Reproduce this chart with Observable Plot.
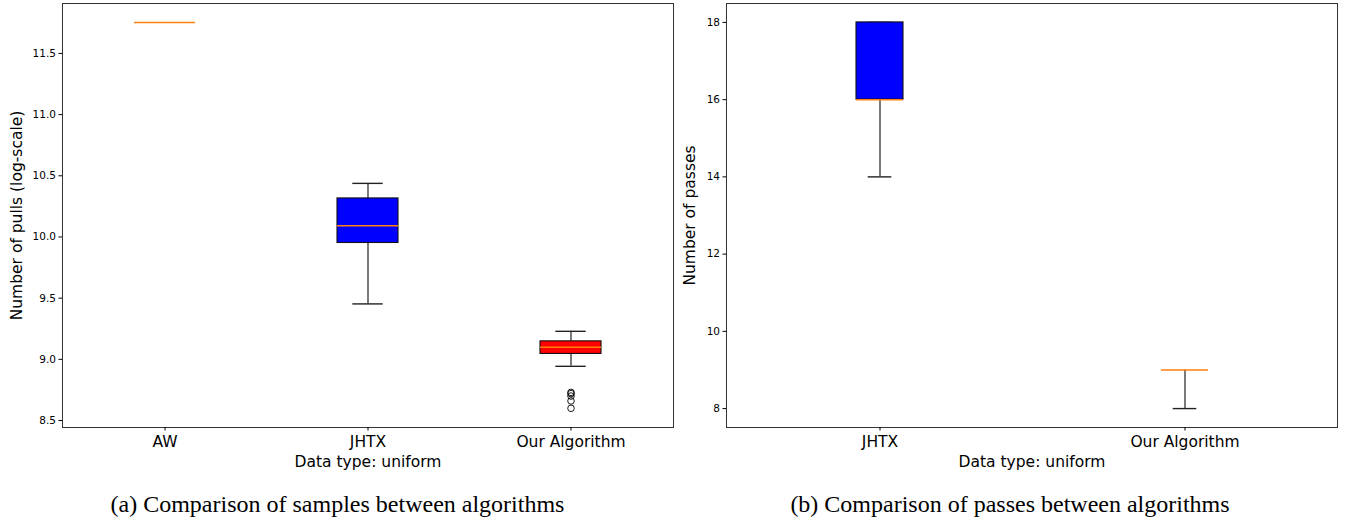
<!DOCTYPE html>
<html>
<head>
<meta charset="utf-8">
<script src="https://cdn.jsdelivr.net/npm/d3@7"></script>
<script src="https://cdn.jsdelivr.net/npm/@observablehq/plot@0.6"></script>
<style>
  body { margin: 0; background: #fff; }
  #wrap { position: relative; width: 1345px; height: 522px; background: #fff; overflow: hidden; }
  #a { position: absolute; left: 0; top: 0; }
  #b { position: absolute; left: 675px; top: 0; }
  .cap { position: absolute; top: 491px; text-align: center; font-family: "Liberation Serif", serif; font-size: 24px; color: #000; white-space: nowrap; }
</style>
</head>
<body>
<div id="wrap">
  <div id="a"></div>
  <div id="b"></div>
  <div class="cap" style="left:0;width:675px">(a) Comparison of samples between algorithms</div>
  <div class="cap" style="left:675px;width:670px">(b) Comparison of passes between algorithms</div>
</div>
<script>
// ---- Data: panel (a) samples ----
const catsA = ["AW", "JHTX", "Our Algorithm"];
const lowA  = [11.753, 9.453, 8.943];
const q1A   = [11.753, 9.951, 9.044];
const medA  = [11.753, 10.092, 9.098];
const q3A   = [11.753, 10.315, 9.147];
const highA = [11.753, 10.438, 9.229];
const outlierCatsA = ["Our Algorithm", "Our Algorithm", "Our Algorithm", "Our Algorithm", "Our Algorithm"];
const outlierValsA = [8.73, 8.72, 8.70, 8.66, 8.60];
const yTicksA = [8.5, 9.0, 9.5, 10.0, 10.5, 11.0, 11.5];

// ---- Data: panel (b) passes ----
const catsB = ["JHTX", "Our Algorithm"];
const lowB  = [14, 8];
const q1B   = [16, 9];
const medB  = [16, 9];
const q3B   = [18, 9];
const highB = [18, 9];
const yTicksB = [8, 10, 12, 14, 16, 18];

// ---- Styles ----
const boxFill = {"AW": "#0000ff", "JHTX": "#0000ff", "Our Algorithm": "#ff0000"};
const medianColor = "#ff7f0e";

function table(cats, lo, q1, med, q3, hi) {
  return cats.map((c, i) => ({cat: c, lo: lo[i], q1: q1[i], med: med[i], q3: q3[i], hi: hi[i]}));
}

function boxPanel({rows, outliers, cats, yDomain, yTicks, yFmt, yLabel, width, marginLeft, marginRight, padIn, capInset, labelDx}) {
  return Plot.plot({
    width, height: 475,
    marginLeft, marginRight, marginTop: 3, marginBottom: 48,
    style: {fontFamily: "DejaVu Sans, sans-serif", fontSize: "10px", background: "#fff", color: "#000"},
    x: {type: "band", domain: cats, paddingInner: padIn, paddingOuter: padIn / 2, align: 0.5},
    y: {domain: yDomain},
    marks: [
      Plot.ruleX(rows, {x: "cat", y1: "lo", y2: "q1", stroke: "#222", strokeWidth: 1.2, filter: d => d.q1 > d.lo}),
      Plot.ruleX(rows, {x: "cat", y1: "q3", y2: "hi", stroke: "#222", strokeWidth: 1.2, filter: d => d.hi > d.q3}),
      Plot.tickY(rows, {x: "cat", y: "lo", stroke: "#222", strokeWidth: 1.4, insetLeft: capInset, insetRight: capInset, filter: d => d.lo < d.med}),
      Plot.tickY(rows, {x: "cat", y: "hi", stroke: "#222", strokeWidth: 1.4, insetLeft: capInset, insetRight: capInset, filter: d => d.hi > d.med}),
      Plot.barY(rows, {x: "cat", y1: "q1", y2: "q3", fill: d => boxFill[d.cat], stroke: "#111", strokeWidth: 1.1, filter: d => d.q3 > d.q1}),
      Plot.tickY(rows, {x: "cat", y: "med", stroke: medianColor, strokeWidth: 1.5}),
      Plot.dot(outliers, {x: "cat", y: "v", r: 3.3, stroke: "#000", fill: "none", strokeWidth: 0.9}),
      Plot.frame({stroke: "#333", strokeWidth: 1}),
      Plot.axisY({ticks: yTicks, tickFormat: yFmt, tickSize: 3.5, tickPadding: 3, label: null, fontSize: 10.5}),
      Plot.axisX({tickSize: 3.5, tickPadding: 5, label: null, fontSize: 15.5}),
      Plot.text([yLabel], {frameAnchor: "left", rotate: -90, textAnchor: "middle", dx: labelDx, fontSize: 15.5, fill: "#000"}),
      Plot.text(["Data type: uniform"], {frameAnchor: "bottom", dy: 39, fontSize: 15.5, fill: "#000"})
    ]
  });
}

const rowsA = table(catsA, lowA, q1A, medA, q3A, highA);
const outA = outlierCatsA.map((c, i) => ({cat: c, v: outlierValsA[i]}));
document.getElementById("a").append(boxPanel({
  rows: rowsA, outliers: outA, cats: catsA,
  yDomain: [8.443, 11.908], yTicks: yTicksA, yFmt: d3.format(".1f"),
  yLabel: "Number of pulls (log-scale)",
  width: 675, marginLeft: 62, marginRight: 2, padIn: 0.7, capInset: 15.3, labelDx: -45
}));

const rowsB = table(catsB, lowB, q1B, medB, q3B, highB);
document.getElementById("b").append(boxPanel({
  rows: rowsB, outliers: [], cats: catsB,
  yDomain: [7.51, 18.49], yTicks: yTicksB, yFmt: d3.format("d"),
  yLabel: "Number of passes",
  width: 670, marginLeft: 51, marginRight: 8, padIn: 0.846, capInset: 11.7, labelDx: -36
}));
</script>
</body>
</html>
